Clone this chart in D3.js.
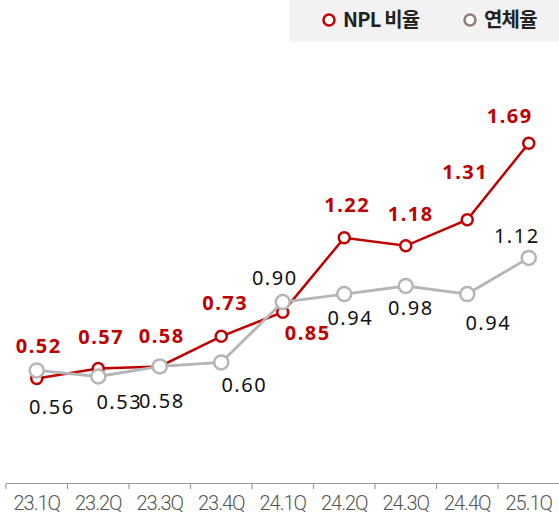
<!DOCTYPE html>
<html>
<head>
<meta charset="utf-8">
<script src="https://cdn.jsdelivr.net/npm/d3@7"></script>
<style>
  html, body { margin: 0; padding: 0; background: #fff; }
  svg { display: block; font-family: "Noto Sans CJK KR", "Noto Sans", sans-serif; }
</style>
</head>
<body>
<svg id="chart" width="559" height="523"></svg>
<script>
"use strict";
const quarters = ["23.1Q", "23.2Q", "23.3Q", "23.4Q", "24.1Q", "24.2Q", "24.3Q", "24.4Q", "25.1Q"];
const nplRatio = [0.52, 0.57, 0.58, 0.73, 0.85, 1.22, 1.18, 1.31, 1.69];
const delinquencyRatio = [0.56, 0.53, 0.58, 0.60, 0.90, 0.94, 0.98, 0.94, 1.12];
const seriesNames = ["NPL 비율", "연체율"];

// label placement tweaks relative to each point (px)
const nplLabelOffset = [[2, -33], [3, -32], [2, -31], [4, -33], [25, 21], [3, -33], [5, -32], [-2, -48], [-19, -28]];
const delLabelOffset = [[15, 36], [21, 25], [2, 34], [23, 22], [-8, -24], [6, 24], [5, 22], [21, 29], [-12, -22]];

(function () {
  const svg = d3.select("#chart");
  const red = "#c00000";
  const grey = "#b5b5b5";

  const x = d3.scaleBand().domain(quarters).range([6, 559.5]).padding(0);
  const y = d3.scaleLinear().domain([0, 2]).range([483, 81]);
  const bw = x.bandwidth();
  const cx = (d, i) => x(quarters[i]) + bw / 2;

  // x axis
  const axis = svg.append("g")
    .attr("transform", "translate(0,483)")
    .call(d3.axisBottom(x).tickSize(6).tickSizeOuter(0).tickPadding(7));
  axis.select(".domain").attr("stroke", "#9a9a9a").attr("stroke-width", 1.2);
  axis.selectAll(".tick line")
    .attr("x1", -bw / 2).attr("x2", -bw / 2)
    .attr("stroke", "#9a9a9a").attr("stroke-width", 1.2);
  axis.selectAll(".tick text")
    .attr("fill", "#555")
    .attr("font-size", 20)
    .attr("font-weight", 300)
    .attr("letter-spacing", "-1px")
    .attr("font-family", "Roboto, sans-serif");

  const line = d3.line().x(cx).y((d) => y(d));

  function drawSeries(values, color, r, width) {
    const g = svg.append("g");
    g.append("path")
      .datum(values)
      .attr("d", line)
      .attr("fill", "none")
      .attr("stroke", color)
      .attr("stroke-width", width);
    g.selectAll("circle")
      .data(values)
      .join("circle")
      .attr("cx", cx)
      .attr("cy", (d) => y(d))
      .attr("r", r)
      .attr("fill", "#fff")
      .attr("stroke", color)
      .attr("stroke-width", 2.5);
  }

  drawSeries(nplRatio, red, 5.5, 2.5);
  drawSeries(delinquencyRatio, grey, 7, 2.8);

  function drawLabels(values, offsets, color, weight) {
    svg.append("g")
      .selectAll("text")
      .data(values)
      .join("text")
      .attr("x", (d, i) => cx(d, i) + offsets[i][0])
      .attr("y", (d, i) => y(d) + offsets[i][1])
      .attr("dy", "0.36em")
      .attr("text-anchor", "middle")
      .attr("font-family", "'Noto Sans', sans-serif")
      .attr("font-size", 20)
      .attr("font-weight", weight)
      .attr("letter-spacing", "1.5px")
      .attr("fill", color)
      .text((d) => d.toFixed(2));
  }

  drawLabels(nplRatio, nplLabelOffset, red, 700);
  drawLabels(delinquencyRatio, delLabelOffset, "#111", 400);

  // legend
  const legend = svg.append("g");
  legend.append("rect")
    .attr("x", 289).attr("y", 0).attr("width", 270).attr("height", 42)
    .attr("fill", "#f2f2f2");
  const items = [
    { name: seriesNames[0], color: red, x: 329 },
    { name: seriesNames[1], color: "#8c8078", x: 470 },
  ];
  const item = legend.selectAll("g.item")
    .data(items)
    .join("g")
    .attr("class", "item")
    .attr("transform", (d) => `translate(${d.x},20)`);
  item.append("circle")
    .attr("r", 5.5)
    .attr("fill", "#fff")
    .attr("stroke", (d) => d.color)
    .attr("stroke-width", 2.5);
  item.append("text")
    .attr("x", 14)
    .attr("dy", "0.36em")
    .attr("font-size", 20)
    .attr("font-weight", 700)
    .attr("letter-spacing", "-0.8px")
    .attr("fill", "#222")
    .text((d) => d.name);
})();
</script>
</body>
</html>
